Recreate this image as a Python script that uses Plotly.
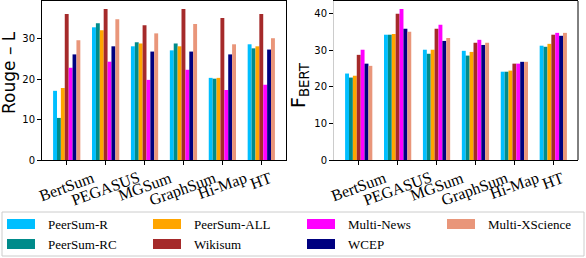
import plotly.graph_objects as go

categories = ["BertSum", "PEGASUS", "MGSum", "GraphSum", "Hi-Map", "HT"]
series_names = ["PeerSum-R", "PeerSum-RC", "PeerSum-ALL", "Wikisum", "Multi-News", "WCEP", "Multi-XScience"]
colors = ["#00BFFF", "#008B8B", "#FFA500", "#A52A2A", "#FF00FF", "#000080", "#E9967A"]

rouge_peersum_r = [17.1, 32.8, 28.1, 27.1, 20.3, 28.6]
rouge_peersum_rc = [10.4, 33.8, 29.1, 28.8, 20.1, 27.6]
rouge_peersum_all = [17.8, 32.1, 28.8, 28.1, 20.3, 28.1]
rouge_wikisum = [36.1, 37.3, 33.3, 37.3, 35.1, 36.1]
rouge_multinews = [22.8, 24.3, 19.8, 22.3, 17.3, 18.6]
rouge_wcep = [26.1, 28.1, 26.8, 26.8, 26.1, 27.3]
rouge_xscience = [29.6, 34.8, 31.3, 33.6, 28.6, 30.1]

bert_peersum_r = [23.6, 34.2, 30.1, 29.8, 24.1, 31.2]
bert_peersum_rc = [22.5, 34.2, 29.0, 28.5, 24.1, 30.9]
bert_peersum_all = [23.0, 34.4, 30.1, 29.5, 24.4, 31.7]
bert_wikisum = [28.7, 39.9, 35.8, 32.0, 26.3, 34.2]
bert_multinews = [30.1, 41.2, 36.9, 32.8, 26.3, 34.7]
bert_wcep = [26.3, 35.8, 32.5, 31.4, 26.8, 33.9]
bert_xscience = [25.7, 35.0, 33.3, 32.0, 26.8, 34.7]

rouge = [rouge_peersum_r, rouge_peersum_rc, rouge_peersum_all, rouge_wikisum,
         rouge_multinews, rouge_wcep, rouge_xscience]
bert = [bert_peersum_r, bert_peersum_rc, bert_peersum_all, bert_wikisum,
        bert_multinews, bert_wcep, bert_xscience]

W, H = 586, 258
def px(x): return x / W
def py(y): return 1 - y / H

fig = go.Figure()
xs = list(range(len(categories)))
for name, col, vals in zip(series_names, colors, rouge):
    fig.add_trace(go.Bar(x=xs, y=vals, name=name, marker_color=col,
                         marker_line_width=0, xaxis="x", yaxis="y", showlegend=False))
for name, col, vals in zip(series_names, colors, bert):
    fig.add_trace(go.Bar(x=xs, y=vals, name=name, marker_color=col,
                         marker_line_width=0, xaxis="x2", yaxis="y2", showlegend=False))

axis_common = dict(showgrid=False, zeroline=False, ticks="outside", ticklen=4,
                   tickcolor="black", linewidth=1, showline=True, automargin=False)
tickfont = dict(family="DejaVu Sans", size=10, color="black")

fig.update_layout(
    width=W, height=H, margin=dict(l=0, r=0, t=0, b=0, autoexpand=False),
    plot_bgcolor="white", paper_bgcolor="white",
    barmode="group", bargap=0.3, bargroupgap=0,
    xaxis=dict(domain=[px(42), px(286)], range=[-0.635, 5.635], tickvals=xs,
               showticklabels=False, anchor="y", linecolor="black", mirror=True, **axis_common),
    yaxis=dict(domain=[py(160), py(1)], range=[0, 39.3], tickvals=[0, 10, 20, 30],
               tickfont=tickfont, anchor="x", linecolor="black", mirror=True,
               **axis_common),
    xaxis2=dict(domain=[px(334), px(578)], range=[-0.635, 5.635], tickvals=xs,
                showticklabels=False, anchor="y2", linecolor="black", mirror=True, **axis_common),
    yaxis2=dict(domain=[py(160), py(1)], range=[0, 43.4], tickvals=[0, 10, 20, 30, 40],
                tickfont=tickfont, anchor="x2", linecolor="#cccccc", mirror=False,
                **axis_common),
)

annotations = []
for xref in ["x", "x2"]:
    for i, cat in enumerate(categories):
        annotations.append(dict(x=i, xref=xref, y=py(166), yref="paper", text=cat,
                                showarrow=False, textangle=-20, xanchor="center", yanchor="top",
                                font=dict(family="Liberation Serif", size=16, color="black")))

# axis titles placed as rotated annotations
annotations.append(dict(x=px(9), y=py(73), xref="paper", yref="paper",
                        text="Rouge – L", showarrow=False, textangle=-90,
                        xanchor="center", yanchor="middle",
                        font=dict(family="DejaVu Sans", size=17, color="black")))
annotations.append(dict(x=px(300), y=py(85), xref="paper", yref="paper",
                        text="F<sub>BERT</sub>", showarrow=False, textangle=-90,
                        xanchor="center", yanchor="middle",
                        font=dict(family="DejaVu Sans", size=19, color="black")))

# right spine of the right panel (black, while its left spine is light grey)
shapes = [dict(type="line", xref="x2 domain", yref="y2 domain", x0=1, x1=1, y0=0, y1=1,
               line=dict(color="black", width=1))]

# legend (matplotlib-style, column-major, 4 columns)
shapes.append(dict(type="rect", xref="paper", yref="paper", x0=px(2), x1=px(584), y0=py(256), y1=py(212),
                   line=dict(color="#cccccc", width=1), fillcolor="white", layer="below"))
col_x = [7, 153, 307, 447]
row_y = [224, 244]
for k, (name, col) in enumerate(zip(series_names, colors)):
    c, r = k // 2, k % 2
    x0 = col_x[c]
    yc = row_y[r]
    shapes.append(dict(type="rect", xref="paper", yref="paper", x0=px(x0), x1=px(x0 + 28),
                       y0=py(yc + 5), y1=py(yc - 5), line=dict(width=0), fillcolor=col))
    annotations.append(dict(x=px(x0 + 39), y=py(yc), xref="paper", yref="paper", text=name,
                            showarrow=False, xanchor="left", yanchor="middle",
                            font=dict(family="Liberation Serif", size=13, color="black")))

fig.update_layout(annotations=annotations, shapes=shapes)
fig.write_html("out.html", config={"displayModeBar": False},
               post_script="document.body.style.margin='0';document.body.style.overflow='hidden';")
